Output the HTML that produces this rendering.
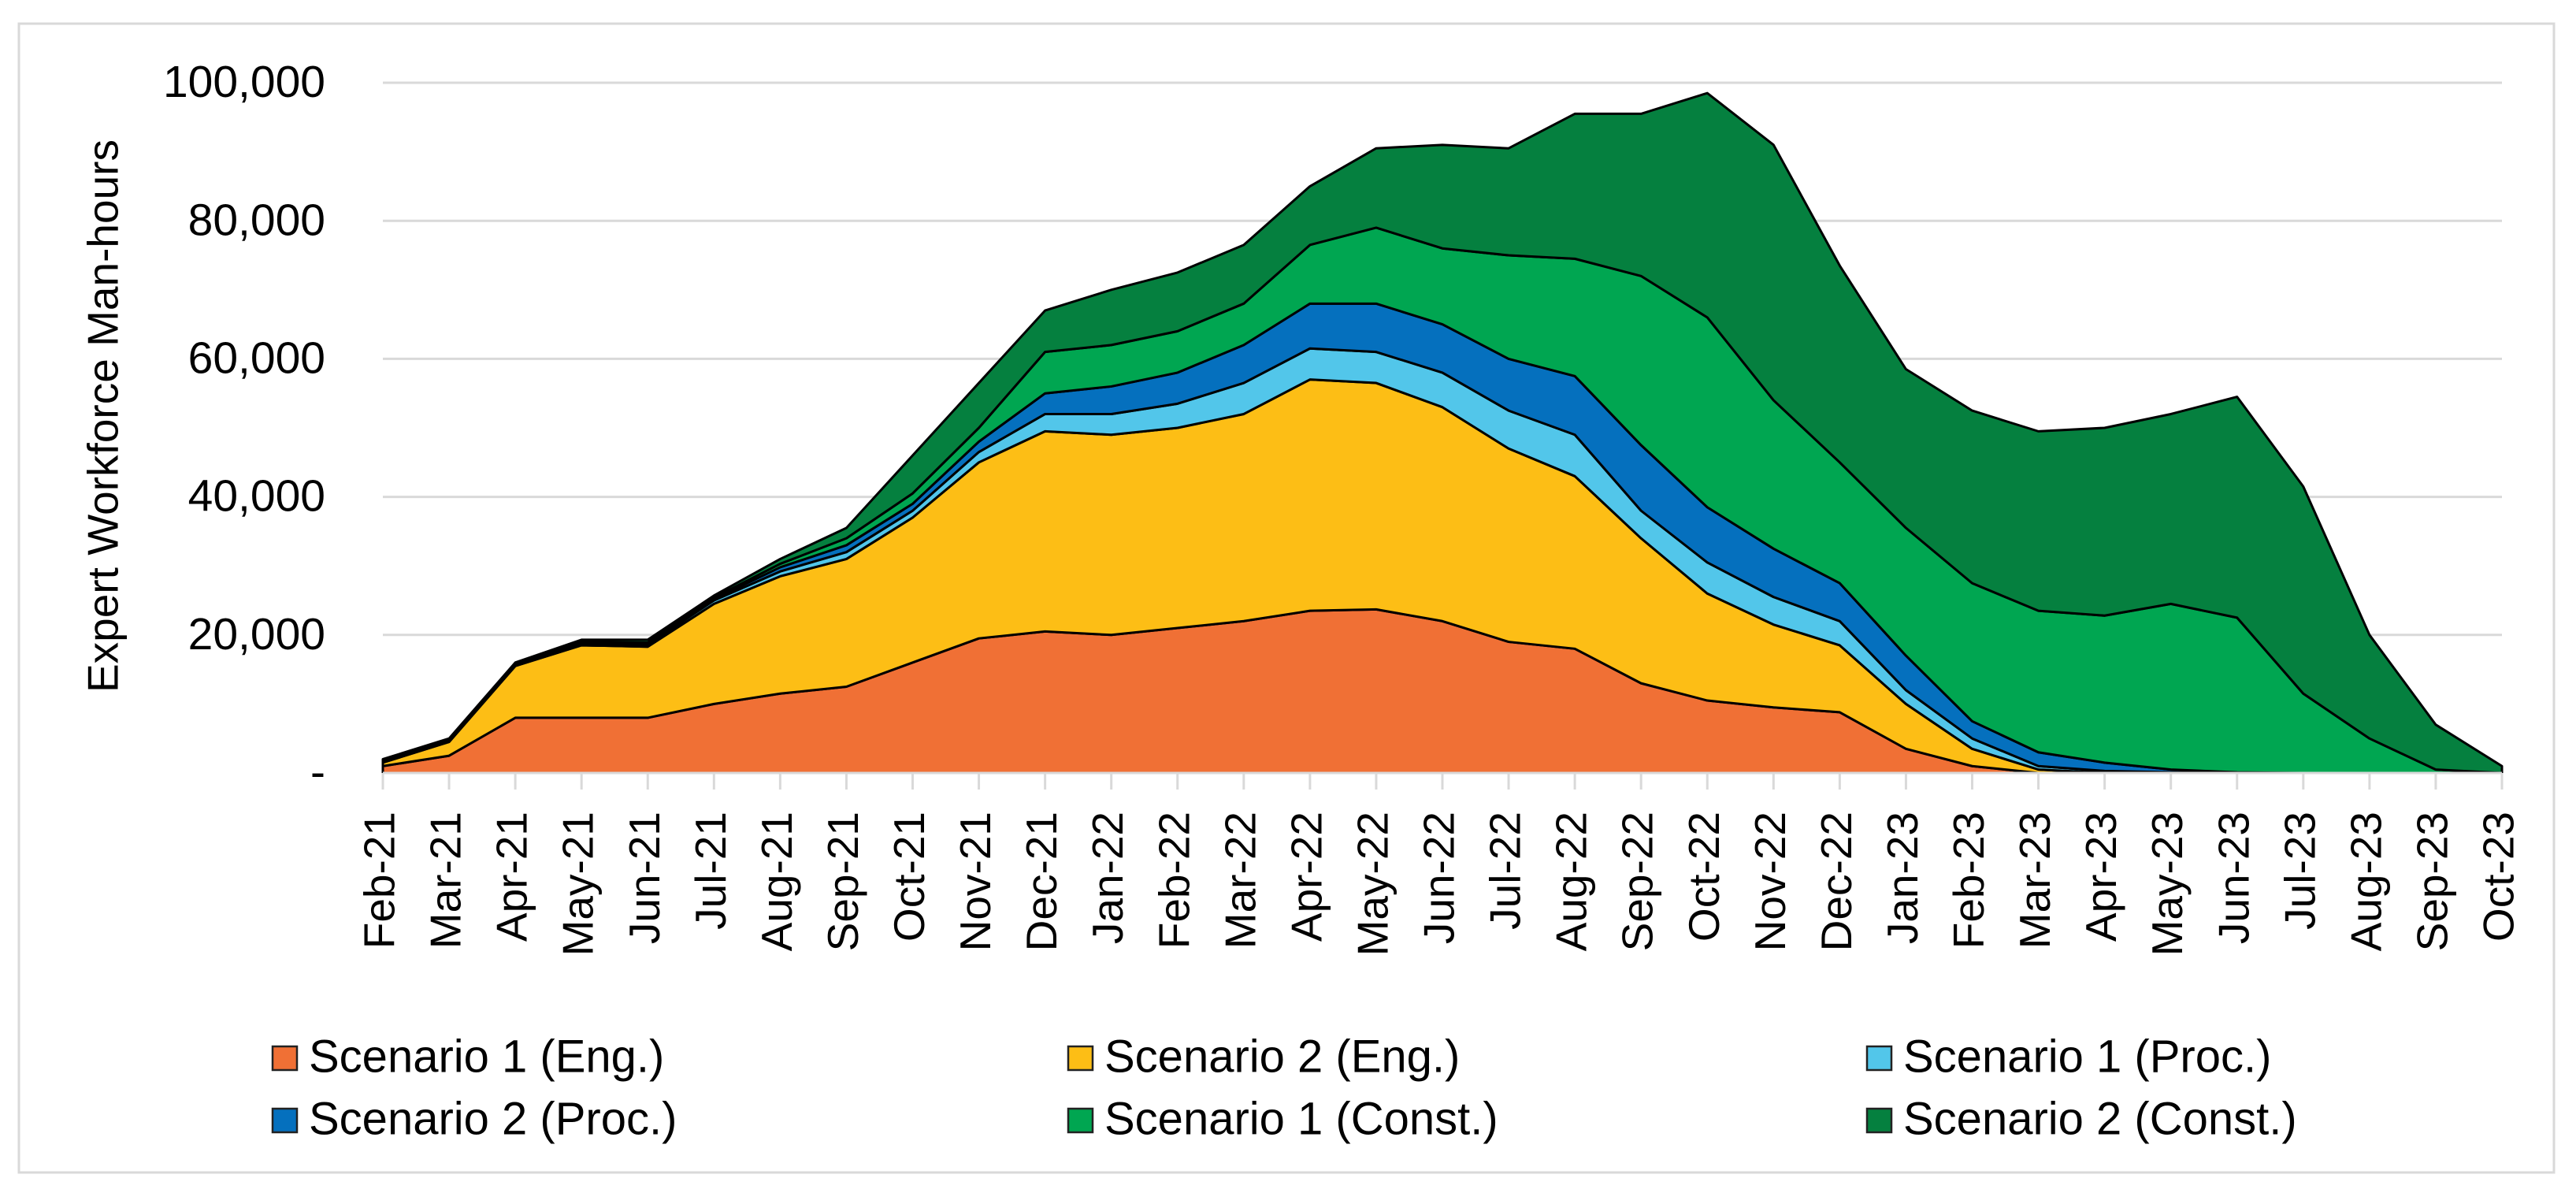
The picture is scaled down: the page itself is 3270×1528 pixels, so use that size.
<!DOCTYPE html>
<html><head><meta charset="utf-8"><style>
html,body{margin:0;padding:0;background:#fff;}
svg{display:block;font-family:"Liberation Sans",sans-serif;}
</style></head><body>
<svg id="chart" width="3270" height="1528" viewBox="0 0 3270 1528">
<rect x="24" y="30" width="3218" height="1458" fill="#fff" stroke="#d9d9d9" stroke-width="3"/>
<g id="grid"></g>
<g id="areas"></g>
<g id="xaxis"></g>
<g id="yaxis"></g>
<text x="135" y="528" transform="rotate(-90 135 528)" text-anchor="middle" dominant-baseline="middle" font-size="55" fill="#000">Expert Workforce Man-hours</text>
<g id="legend"></g>
</svg>
<script>
const months = ["Feb-21","Mar-21","Apr-21","May-21","Jun-21","Jul-21","Aug-21","Sep-21","Oct-21","Nov-21","Dec-21","Jan-22","Feb-22","Mar-22","Apr-22","May-22","Jun-22","Jul-22","Aug-22","Sep-22","Oct-22","Nov-22","Dec-22","Jan-23","Feb-23","Mar-23","Apr-23","May-23","Jun-23","Jul-23","Aug-23","Sep-23","Oct-23"];
const s1Eng = [1000,2500,8000,8000,8000,10000,11500,12500,16000,19500,20500,20000,21000,22000,23500,23700,22000,19000,18000,13000,10500,9500,8800,3500,1000,0,0,0,0,0,0,0,0];
const s2Eng = [500,2000,7500,10500,10300,14500,17000,18500,21000,25500,29000,29000,29000,30000,33500,32800,31000,28000,25000,21000,15500,12000,9700,6500,2500,500,0,0,0,0,0,0,0];
const s1Proc = [100,200,200,200,300,500,700,1000,1000,1500,2500,3000,3500,4500,4500,4500,5000,5500,6000,4000,4500,4000,3500,2000,1500,500,300,100,0,0,0,0,0];
const s2Proc = [100,100,100,200,200,200,600,1000,1000,1500,3000,4000,4500,5500,6500,7000,7000,7500,8500,9500,8000,7000,5500,5000,2500,2000,1200,400,100,0,0,0,0];
const s1Const = [100,100,100,100,100,200,500,1000,1500,2000,6000,6000,6000,6000,8500,11000,11000,15000,17000,24500,27500,21500,17500,18500,20000,20500,21300,24000,22400,11500,5000,500,0];
const s2Const = [200,100,100,300,400,300,700,1500,5500,6500,6000,8000,8500,8500,8500,11500,15000,15500,21000,23500,32500,37000,28500,23000,25000,26000,27200,27500,32000,30000,15000,6500,1000];
const yTicks = [0,20000,40000,60000,80000,100000];
const yTickLabels = ["-","20,000","40,000","60,000","80,000","100,000"];
const seriesNames = ["Scenario 1 (Eng.)","Scenario 2 (Eng.)","Scenario 1 (Proc.)","Scenario 2 (Proc.)","Scenario 1 (Const.)","Scenario 2 (Const.)"];
const seriesData = [s1Eng,s2Eng,s1Proc,s2Proc,s1Const,s2Const];
const colors = ["#F07035","#FDBE15","#52C6EA","#0570BE","#00A651","#05803F"];
const NS="http://www.w3.org/2000/svg";
const X0=486,X1=3176,Y0=981,Y100=105;
function xs(i){return X0+(X1-X0)*i/(months.length-1);}
function ys(v){return Y0-(Y0-Y100)*v/100000;}
function mk(t,a,p){const e=document.createElementNS(NS,t);for(const k in a)e.setAttribute(k,a[k]);p.appendChild(e);return e;}
const grid=document.getElementById('grid'),areas=document.getElementById('areas'),xa=document.getElementById('xaxis'),ya=document.getElementById('yaxis'),lg=document.getElementById('legend');
yTicks.forEach((v,i)=>{
  if(v>0){const l=mk('line',{x1:X0,x2:X1,y1:ys(v),y2:ys(v),stroke:'#d9d9d9','stroke-width':3},grid);
  
  }
  const t=mk('text',{x:413,y:ys(v)+3,'text-anchor':'end','dominant-baseline':'middle','font-size':57,fill:'#000'},ya);
  t.textContent=yTickLabels[i];
  
  
});
let base=months.map(()=>0);
seriesData.forEach((s,k)=>{
  const top=base.map((b,i)=>b+s[i]);
  let d='M'+months.map((m,i)=>xs(i)+','+ys(top[i])).join(' L');
  for(let i=months.length-1;i>=0;i--)d+=' L'+xs(i)+','+ys(base[i]);
  d+=' Z';
  const p=mk('path',{d:d,fill:colors[k],stroke:'#000','stroke-width':3,'stroke-linejoin':'round'},areas);
  
  
  base=top;
});
mk('line',{x1:X0,x2:X1,y1:Y0,y2:Y0,stroke:'#d9d9d9','stroke-width':3},xa);
months.forEach((m,i)=>{
  const tk=mk('line',{x1:xs(i),x2:xs(i),y1:Y0,y2:1002,stroke:'#d9d9d9','stroke-width':3},xa);
  
  
  const x=xs(i),y=1030;
  const t=mk('text',{x:x,y:y,transform:'rotate(-90 '+x+' '+y+')','text-anchor':'end','dominant-baseline':'middle','font-size':55,fill:'#000'},xa);
  t.textContent=m;
  
  
});
const lx=[346,1356,2370],ly=[1343,1422];
seriesNames.forEach((n,k)=>{
  const x=lx[k%3],y=ly[Math.floor(k/3)];
  const g=mk('g',{},lg);
  
  
  mk('rect',{x:x,y:y-15,width:31,height:30,fill:colors[k],stroke:'#222','stroke-width':2.5},g);
  const t=mk('text',{x:x+46,y:y+2,'dominant-baseline':'middle','font-size':58,fill:'#000'},g);
  t.textContent=n;
});
</script>
</body></html>
